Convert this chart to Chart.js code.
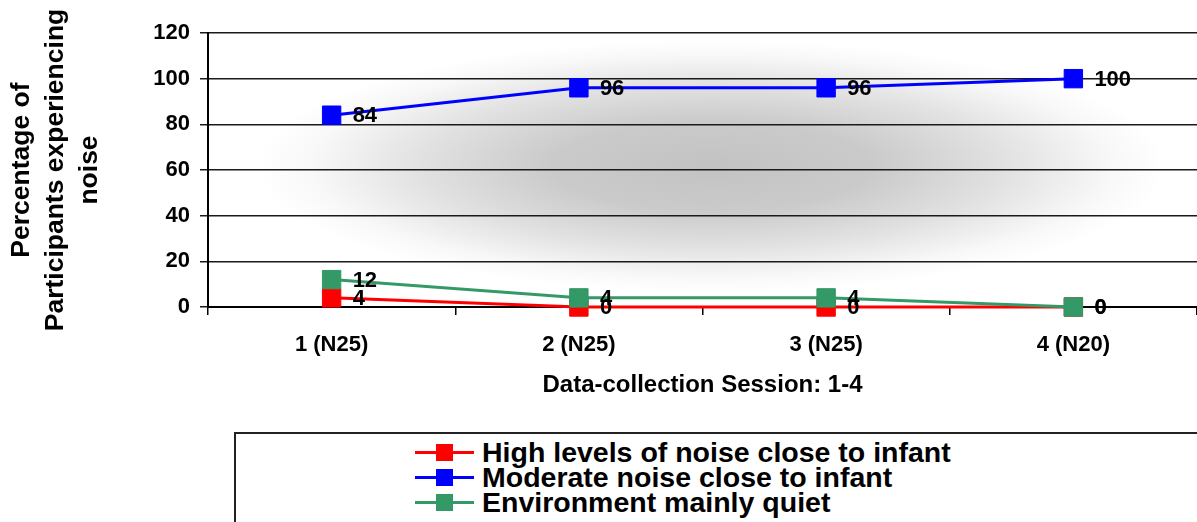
<!DOCTYPE html>
<html>
<head>
<meta charset="utf-8">
<script src="https://cdn.jsdelivr.net/npm/chart.js@4/dist/chart.umd.min.js"></script>
<style>
  html, body { margin: 0; padding: 0; background: #fff; }
  body { width: 1197px; height: 522px; position: relative; overflow: hidden; font-family: "Liberation Sans", Arial, sans-serif; }
  #wrap { position: absolute; left: 0; top: 0; width: 1197px; height: 420px; }
  #leyenda {
    position: absolute; left: 234px; top: 432px; width: 980px; height: 120px;
    border: 2px solid #222; box-sizing: border-box; padding: 6px 0 0 179px;
  }
  .item { height: 25px; line-height: 25px; display: flex; align-items: center; font-weight: bold; font-size: 28.5px; color: #000; white-space: nowrap; }
  .muestra { position: relative; width: 59px; height: 19px; margin-right: 8px; flex: none; }
  .muestra .linea { position: absolute; left: 0; right: 0; top: 8px; height: 3px; }
  .muestra .cuadro { position: absolute; left: 21px; top: 1px; width: 17px; height: 17px; }
</style>
</head>
<body>
<div id="wrap"><canvas id="grafico" width="1197" height="420"></canvas></div>
<div id="leyenda"></div>
<script>
const sesiones = ["1 (N25)", "2 (N25)", "3 (N25)", "4 (N20)"]
const ruidoAlto = [4, 0, 0, 0]
const ruidoModerado = [84, 96, 96, 100]
const ambienteTranquilo = [12, 4, 4, 0]
const nombresSeries = ["High levels of noise close to infant", "Moderate noise close to infant", "Environment mainly quiet"]
const coloresSeries = ["#ff0000", "#0000ff", "#339966"]
const ticksY = [0, 20, 40, 60, 80, 100, 120]

const fuente = "'Liberation Sans', Arial, sans-serif"

// fondo gris difuminado dentro del area del grafico
const fondoDegradado = {
    id: "fondoDegradado",
    beforeDraw(chart) {
        const { ctx, chartArea: a } = chart
        const cx = 712
        const cy = 166
        const rx = 455, ry = 126
        ctx.save()
        ctx.beginPath()
        ctx.rect(a.left, a.top, a.right - a.left, a.bottom - a.top)
        ctx.clip()
        ctx.translate(cx, cy)
        ctx.scale(1, ry / rx)
        const g = ctx.createRadialGradient(0, 0, 0, 0, 0, rx)
        g.addColorStop(0, "#c3c3c3")
        g.addColorStop(0.35, "#cacaca")
        g.addColorStop(0.65, "#e2e2e2")
        g.addColorStop(0.88, "#f8f8f8")
        g.addColorStop(1, "#ffffff")
        ctx.fillStyle = g
        ctx.fillRect(-rx * 2, -rx * 2, rx * 4, rx * 4)
        ctx.restore()
    }
}

// etiquetas con el valor junto a cada punto
const etiquetasValor = {
    id: "etiquetasValor",
    afterDatasetsDraw(chart) {
        const { ctx } = chart
        ctx.save()
        ctx.font = "bold 22px " + fuente
        ctx.fillStyle = "#000"
        ctx.textAlign = "left"
        ctx.textBaseline = "middle"
        chart.data.datasets.forEach((ds, i) => {
            const meta = chart.getDatasetMeta(i)
            meta.data.forEach((p, j) => {
                ctx.fillText(String(ds.data[j]), p.x + 21, p.y + 1)
            })
        })
        ctx.restore()
    }
}

const series = [ruidoAlto, ruidoModerado, ambienteTranquilo]
const ordenDibujo = [3, 2, 1]

new Chart(document.getElementById("grafico"), {
    type: "line",
    data: {
        labels: sesiones,
        datasets: series.map((datos, i) => ({
            label: nombresSeries[i],
            data: datos,
            borderColor: coloresSeries[i],
            backgroundColor: coloresSeries[i],
            pointBackgroundColor: coloresSeries[i],
            pointBorderColor: coloresSeries[i],
            borderWidth: 3,
            pointStyle: "rect",
            pointRadius: 13,
            pointBorderWidth: 1,
            tension: 0,
            clip: false,
            order: ordenDibujo[i]
        }))
    },
    options: {
        responsive: false,
        animation: false,
        layout: { autoPadding: false, padding: { top: 33, left: 0, right: -3, bottom: 20 } },
        plugins: {
            legend: { display: false },
            tooltip: { enabled: false }
        },
        scales: {
            x: {
                offset: true,
                grid: {
                    offset: true,
                    drawOnChartArea: false,
                    drawTicks: true,
                    tickLength: 8,
                    color: "#000",
                    lineWidth: 1.5
                },
                border: { color: "#000", width: 2 },
                ticks: {
                    color: "#000",
                    padding: 17,
                    font: { family: fuente, size: 22, weight: "bold" }
                },
                title: {
                    display: true,
                    text: "Data-collection Session: 1-4",
                    color: "#000",
                    padding: 0,
                    font: { family: fuente, size: 24, weight: "bold" }
                },
                afterFit: s => { s.height = 93 }
            },
            y: {
                min: 0,
                max: 120,
                afterBuildTicks: s => { s.ticks = ticksY.map(v => ({ value: v })) },
                grid: {
                    color: "#1a1a1a",
                    lineWidth: 1.5,
                    tickLength: 8
                },
                border: { color: "#000", width: 2 },
                ticks: {
                    color: "#000",
                    padding: 10,
                    font: { family: fuente, size: 22, weight: "bold" }
                },
                title: {
                    display: true,
                    text: ["Percentage of", "Participants experiencing", "noise"],
                    color: "#000",
                    padding: { top: 4, bottom: 0 },
                    font: { family: fuente, size: 26.5, weight: "bold", lineHeight: 1.3 }
                },
                afterFit: s => { s.width = 208 }
            }
        }
    },
    plugins: [fondoDegradado, etiquetasValor]
})

// leyenda en html con la muestra de linea y cuadro
const leyenda = document.getElementById("leyenda")
leyenda.innerHTML = nombresSeries.map((nombre, i) => `
    <div class="item">
        <span class="muestra">
            <span class="linea" style="background:${coloresSeries[i]}"></span>
            <span class="cuadro" style="background:${coloresSeries[i]}"></span>
        </span>
        <span>${nombre}</span>
    </div>`).join("")
</script>
</body>
</html>
